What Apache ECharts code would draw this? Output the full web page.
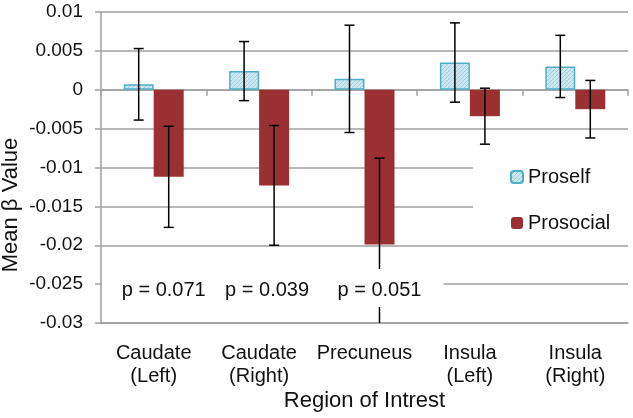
<!DOCTYPE html>
<html>
<head>
<meta charset="utf-8">
<script src="https://cdn.jsdelivr.net/npm/echarts@6/dist/echarts.min.js"></script>
<style>html,body{margin:0;padding:0;background:#fff;}#c{width:633px;height:418px;}</style>
</head>
<body>
<div id="c"></div>
<script>
const categories = ['Caudate\n(Left)', 'Caudate\n(Right)', 'Precuneus', 'Insula\n(Left)', 'Insula\n(Right)'];
const proselfMean = [0.0007, 0.0024, 0.0014, 0.0035, 0.0030];
const proselfErr = [0.0046, 0.0038, 0.0069, 0.0051, 0.0040];
const prosocialMean = [-0.0112, -0.0123, -0.0199, -0.0034, -0.0025];
const prosocialErr = [0.0065, 0.0077, 0.0111, 0.0036, 0.0037];
const pLabels = ['p = 0.071', 'p = 0.039', 'p = 0.051'];
const yMin = -0.03, yMax = 0.01, yStep = 0.005;

const FONT = "'Liberation Sans', Arial, Helvetica, sans-serif";
const GRID_COLOR = '#a0a0a0';
const BAR_W = 30;
const P_Y = -0.0255;           // vertical placement of the p-value annotations
const P_DX = [10, 8, 15];      // horizontal nudge of each annotation (px)

function makeHatch() {
  const c = document.createElement('canvas');
  c.width = 4; c.height = 4;
  const g = c.getContext('2d');
  g.fillStyle = '#cfe8f0';
  g.fillRect(0, 0, 4, 4);
  g.strokeStyle = '#9acddd';
  g.lineWidth = 1;
  g.beginPath();
  g.moveTo(-1, 5); g.lineTo(5, -1);
  g.stroke();
  return c;
}
const hatch = { image: makeHatch(), repeat: 'repeat' };

function errorSeries(means, errs, sign) {
  return {
    type: 'custom',
    z: 5,
    clip: true,
    silent: true,
    data: means.map((m, i) => [i, m - errs[i], m + errs[i]]),
    encode: { x: 0, y: [1, 2] },
    renderItem: function (params, api) {
      const i = api.value(0);
      const lo = api.coord([i, api.value(1)]);
      const hi = api.coord([i, api.value(2)]);
      const x = lo[0] + sign * BAR_W / 2;
      const cap = 5;
      const st = { stroke: '#000', lineWidth: 1.5 };
      return {
        type: 'group',
        children: [
          { type: 'line', shape: { x1: x, y1: lo[1], x2: x, y2: hi[1] }, style: st },
          { type: 'line', shape: { x1: x - cap, y1: lo[1], x2: x + cap, y2: lo[1] }, style: st },
          { type: 'line', shape: { x1: x - cap, y1: hi[1], x2: x + cap, y2: hi[1] }, style: st }
        ]
      };
    }
  };
}

const chart = echarts.init(document.getElementById('c'), null, { renderer: 'canvas' });
chart.setOption({
  animation: false,
  backgroundColor: '#fff',
  textStyle: { fontFamily: FONT },
  grid: { left: 101, right: 5, top: 12, bottom: 95, containLabel: false, outerBoundsMode: 'none' },
  legend: {
    orient: 'vertical',
    left: 473, top: 150,
    itemWidth: 12, itemHeight: 12, itemGap: 26,
    padding: [17, 19, 12, 37],
    backgroundColor: '#fff',
    textStyle: { fontSize: 20, color: '#111', fontFamily: FONT },
    data: ['Proself', 'Prosocial']
  },
  xAxis: [
    {
      type: 'category', data: categories, position: 'bottom',
      axisLine: { onZero: false, lineStyle: { color: GRID_COLOR, width: 1.5 } },
      axisTick: { show: false },
      axisLabel: { fontSize: 20, color: '#111', margin: 19, lineHeight: 23, fontFamily: FONT, interval: 0 },
      name: 'Region of Intrest', nameLocation: 'middle', nameGap: 67, nameMoveOverlap: false,
      nameTextStyle: { fontSize: 22, color: '#111', fontFamily: FONT }
    },
    {
      type: 'category', data: categories, position: 'top',
      axisLine: { onZero: true, lineStyle: { color: GRID_COLOR, width: 1.5 } },
      axisTick: { show: true, inside: true, length: 6, lineStyle: { color: GRID_COLOR, width: 1.5 } },
      axisLabel: { show: false }
    }
  ],
  yAxis: {
    type: 'value', min: yMin, max: yMax, interval: yStep,
    axisLine: { show: true, lineStyle: { color: GRID_COLOR, width: 1.5 } },
    axisTick: { show: true, length: 6, lineStyle: { color: GRID_COLOR, width: 1.5 } },
    splitLine: { lineStyle: { color: GRID_COLOR, width: 1.5 } },
    axisLabel: {
      fontSize: 19, color: '#111', margin: 18, fontFamily: FONT,
      formatter: v => String(parseFloat(v.toFixed(4)))
    },
    name: 'Mean β Value', nameLocation: 'middle', nameGap: 79, nameMoveOverlap: false,
    nameTextStyle: { fontSize: 22, color: '#111', fontFamily: FONT, padding: [0, 75, 0, 0] }
  },
  series: [
    {
      name: 'Proself', type: 'bar', xAxisIndex: 0, data: proselfMean,
      barWidth: BAR_W, barGap: '0%',
      itemStyle: { color: hatch, borderColor: '#4fafc9', borderWidth: 1.5 }
    },
    {
      name: 'Prosocial', type: 'bar', xAxisIndex: 0, data: prosocialMean,
      barWidth: BAR_W, barGap: '0%',
      itemStyle: { color: '#9b3033' }
    },
    errorSeries(proselfMean, proselfErr, -1),
    errorSeries(prosocialMean, prosocialErr, 1),
    {
      type: 'custom', z: 6, clip: true, silent: true,
      data: pLabels.map((t, i) => [i, P_Y]),
      encode: { x: 0, y: 1 },
      renderItem: function (params, api) {
        const i = api.value(0);
        const p = api.coord([i, P_Y]);
        const cx = p[0] + P_DX[i];
        const left = Math.max(params.coordSys.x + 1, cx - 64);
        const right = cx + 64;
        return { type: 'rect', shape: { x: left, y: p[1] - 19, width: right - left, height: 38 }, style: { fill: '#fff' } };
      }
    },
    {
      type: 'custom', z: 7, clip: false, silent: true,
      data: pLabels.map((t, i) => [i, P_Y]),
      encode: { x: 0, y: 1 },
      renderItem: function (params, api) {
        const i = api.value(0);
        const p = api.coord([i, P_Y]);
        return { type: 'text', style: { text: pLabels[i], x: p[0] + P_DX[i], y: p[1] + 2, align: 'center', verticalAlign: 'middle', fontSize: 20, fontFamily: FONT, fill: '#111' } };
      }
    }
  ]
});
</script>
</body>
</html>
